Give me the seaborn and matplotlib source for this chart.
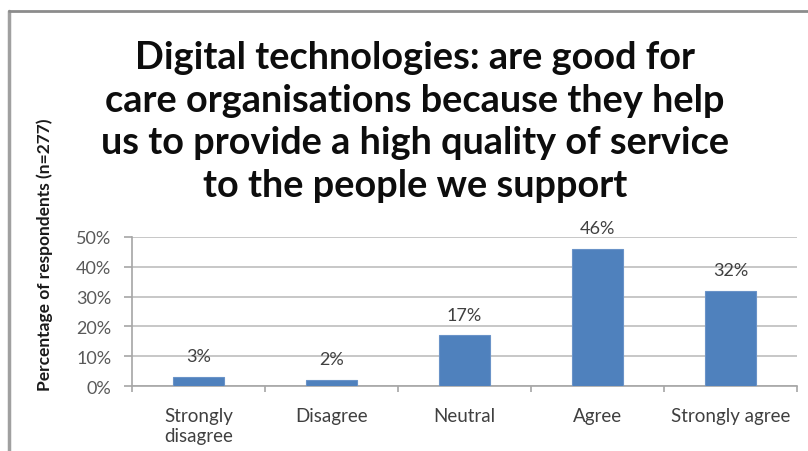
import matplotlib
matplotlib.use("Agg")
import matplotlib.pyplot as plt
from matplotlib.lines import Line2D
from matplotlib.ticker import PercentFormatter, FixedLocator
import seaborn as sns
import pandas as pd

categories = ["Strongly\ndisagree", "Disagree", "Neutral", "Agree", "Strongly agree"]
percentages = [3, 2, 17, 46, 32]
y_ticks = [0, 10, 20, 30, 40, 50]

title = ("Digital technologies: are good for\n"
         "care organisations because they help\n"
         "us to provide a high quality of service\n"
         "to the people we support")
y_label = "Percentage of respondents (n=277)"

sns.set_theme(style="white")
plt.rcParams["font.family"] = ["Lato", "DejaVu Sans"]

W, H = 808, 452
fig = plt.figure(figsize=(W / 100, H / 100), dpi=100)
ax = fig.add_axes([132 / W, 1 - 387 / H, (797 - 132) / W, (387 - 238) / H])

df = pd.DataFrame({"category": categories, "pct": percentages})
sns.barplot(data=df, x="category", y="pct", color="#4F81BD", width=0.39,
            saturation=1, edgecolor="#6A93C8", linewidth=0.8, ax=ax, zorder=3)

ax.set_xlim(-0.5, len(categories) - 0.5)
ax.set_ylim(0, 50)
ax.yaxis.set_major_locator(FixedLocator(y_ticks))
ax.yaxis.set_major_formatter(PercentFormatter(decimals=0))
ax.grid(axis="y", color="#BDBDBD", linewidth=1.2, zorder=0)
ax.set_axisbelow(True)

for side in ("top", "right"):
    ax.spines[side].set_visible(False)
for side in ("left", "bottom"):
    ax.spines[side].set_color("#A6A6A6")
    ax.spines[side].set_linewidth(1.2)

ax.tick_params(axis="y", which="major", left=True, length=5.8, width=1.2,
               color="#A6A6A6", labelsize=13, labelcolor="#595959", pad=9)
ax.tick_params(axis="x", bottom=False, labelsize=13.5, labelcolor="#404040", pad=9)
# category separators on the x axis
ax.set_xticks([i - 0.5 for i in range(len(categories) + 1)], minor=True)
ax.tick_params(axis="x", which="minor", bottom=True, length=4, width=1.2,
               color="#A6A6A6")
ax.set_xlabel("")
ax.set_ylabel("")

for i, v in enumerate(percentages):
    ax.annotate(f"{v}%", (i, v), xytext=(0, 15), textcoords="offset points",
                ha="center", va="center", fontsize=13, color="#404040")

fig.text(45 / W, 1 - 255 / H, y_label, rotation=90, ha="center", va="center",
         fontsize=12.5, fontweight="bold", color="#1A1A1A")

fig.text(415 / W, 1 - 122 / H, title, ha="center", va="center",
         fontsize=27.3, fontweight="bold", color="#0D0D0D", linespacing=1.31)

# chart frame
fig.add_artist(Line2D([9 / W, 9 / W], [0, 1 - 12 / H], color="#A0A0A0",
                      linewidth=2.5, transform=fig.transFigure))
fig.add_artist(Line2D([9 / W, 1], [1 - 12 / H, 1 - 12 / H], color="#8C8C8C",
                      linewidth=2, transform=fig.transFigure))

fig.savefig("out.png", dpi=100, facecolor="white")
